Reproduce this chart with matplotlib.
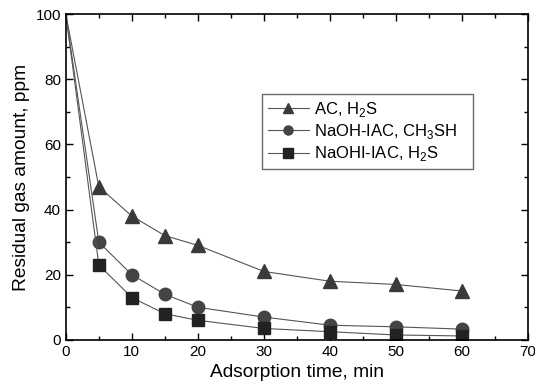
import matplotlib.pyplot as plt
from matplotlib.ticker import MultipleLocator

plt.rcParams['font.family'] = ['Liberation Sans', 'DejaVu Sans']
plt.rcParams['mathtext.fontset'] = 'custom'
plt.rcParams['mathtext.rm'] = 'Liberation Sans'

# adsorption time (min)
time = [0, 5, 10, 15, 20, 30, 40, 50, 60]

# residual gas amount (ppm)
ac_h2s = [100, 47, 38, 32, 29, 21, 18, 17, 15]
naoh_ch3sh = [100, 30, 20, 14, 10, 7, 4.5, 4, 3.3]
naohi_h2s = [100, 23, 13, 8, 6, 3.5, 2.5, 1.5, 1.2]

labels = ['AC, H$_2$S', 'NaOH-IAC, CH$_3$SH', 'NaOHI-IAC, H$_2$S']

fig = plt.figure(figsize=(5.35, 3.92), dpi=100)
ax = fig.add_axes([0.123, 0.133, 0.864, 0.831])

# each series: values, marker, marker size, marker colour
series = [(ac_h2s, '^', 9.5, '#3a3a3a'),
          (naoh_ch3sh, 'o', 9, '#444444'),
          (naohi_h2s, 's', 8, '#222222')]

# no marker at t=0, only the line starts there
for (vals, mk, ms, col), lab in zip(series, labels):
    ax.plot(time, vals, color='#555555', lw=0.8, marker=mk, ms=ms,
            markevery=slice(1, None),
            markerfacecolor=col, markeredgecolor=col, label=lab)

ax.set_xlim(0, 70)
ax.set_ylim(0, 100)
ax.xaxis.set_major_locator(MultipleLocator(10))
ax.xaxis.set_minor_locator(MultipleLocator(5))
ax.yaxis.set_major_locator(MultipleLocator(20))
ax.yaxis.set_minor_locator(MultipleLocator(10))
ax.tick_params(which='both', direction='in', top=True, right=True,
               labelsize=11, width=1)
ax.tick_params(which='major', length=5)
ax.tick_params(which='minor', length=3)
for s in ax.spines.values():
    s.set_linewidth(1.2)

ax.set_xlabel('Adsorption time, min', fontsize=13.8)
ax.set_ylabel('Residual gas amount, ppm', fontsize=13.8)

leg = ax.legend(loc='upper left', bbox_to_anchor=(0.424, 0, 0.457, 0.755),
                mode='expand', fontsize=12, frameon=True, fancybox=False,
                handlelength=2.5, borderpad=0.35, labelspacing=0.2,
                handletextpad=0.3, borderaxespad=0)
leg.get_frame().set_edgecolor('#444444')
leg.get_frame().set_linewidth(1)
for h in leg.legend_handles:
    h.set_markersize(6.5)

fig.savefig('out.png', dpi=100)
